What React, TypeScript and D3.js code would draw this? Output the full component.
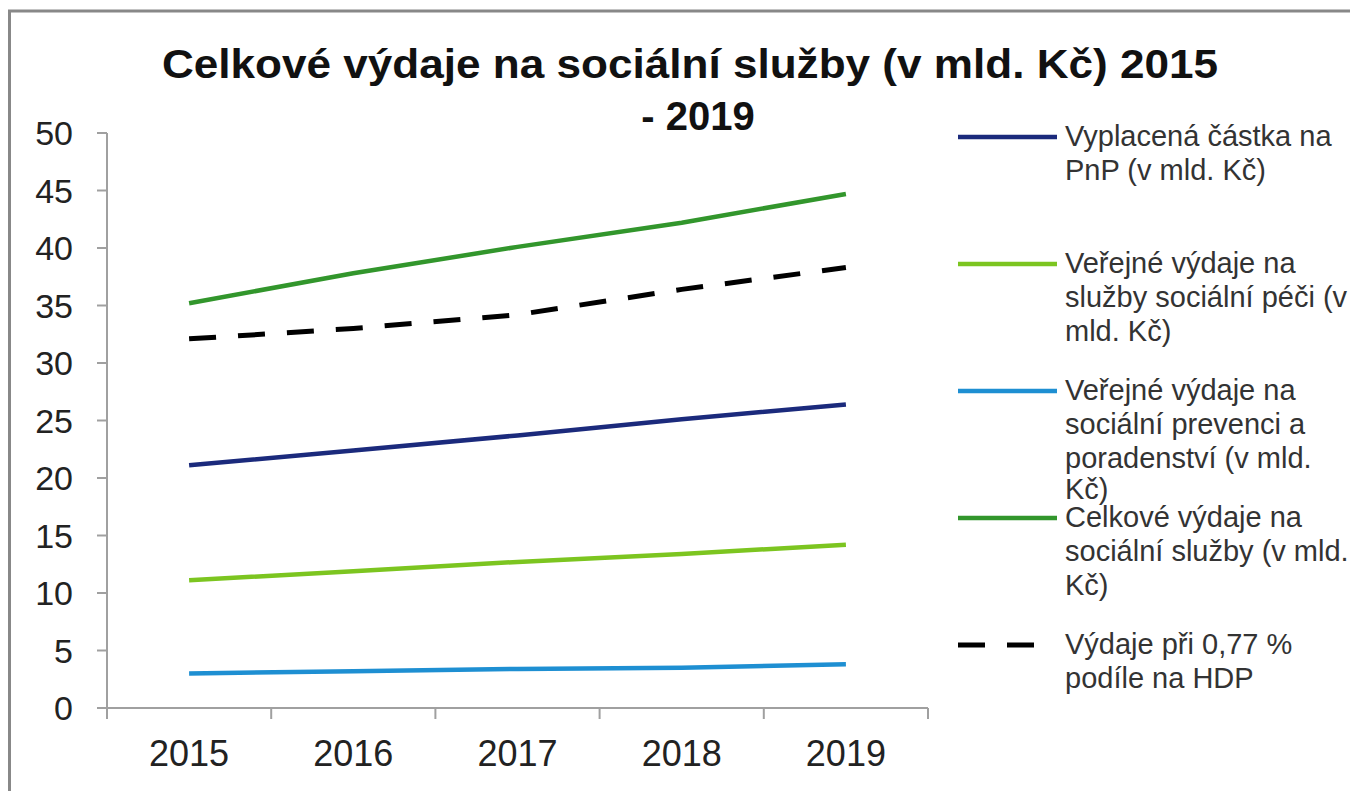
import React from "react";
import * as d3 from "d3";

const years = ["2015", "2016", "2017", "2018", "2019"];
const yTicks = [0, 5, 10, 15, 20, 25, 30, 35, 40, 45, 50];

const pnp = [21.1, 22.4, 23.7, 25.1, 26.4];
const pece = [11.1, 11.9, 12.7, 13.4, 14.2];
const prevence = [3.0, 3.2, 3.4, 3.5, 3.8];
const celkove = [35.2, 37.8, 40.1, 42.2, 44.7];
const hdp = [32.1, 33.0, 34.2, 36.4, 38.3];

const seriesNames = [
  ["Vyplacená částka na", "PnP (v mld. Kč)"],
  ["Veřejné výdaje na", "služby sociální péči (v", "mld. Kč)"],
  ["Veřejné výdaje na", "sociální prevenci a", "poradenství (v mld.", "Kč)"],
  ["Celkové výdaje na", "sociální služby (v mld.", "Kč)"],
  ["Výdaje při 0,77 %", "podíle na HDP"],
];

const titleLines = ["Celkové výdaje na sociální služby (v mld. Kč) 2015", "- 2019"];

const series = [
  { values: pnp, color: "#1b2a7c", dash: null },
  { values: pece, color: "#7cc520", dash: null },
  { values: prevence, color: "#1e8fd2", dash: null },
  { values: celkove, color: "#32962c", dash: null },
  { values: hdp, color: "#000000", dash: "27 22" },
];

const FONT = "'Liberation Sans', Arial, Helvetica, sans-serif";

export default function App() {
  const W = 1350;
  const H = 791;
  const x = d3.scaleBand<string>().domain(years).range([107, 928]).padding(0);
  const y = d3.scaleLinear().domain([0, 50]).range([708, 133]);
  const cx = (d: string) => (x(d) as number) + x.bandwidth() / 2;

  const line = d3
    .line<number>()
    .x((_, i) => cx(years[i]))
    .y((v) => y(v));

  const legendY = d3.scaleLinear().domain([0, 4]).range([137, 645]);
  const axisColor = "#a0a0a0";

  const drawOrder = [2, 1, 0, 4, 3];

  return (
    <svg
      width={W}
      height={H}
      style={{ position: "absolute", left: 0, top: 0, background: "#fff" }}
      fontFamily={FONT}
    >
      <rect x={0} y={0} width={W} height={H} fill="#fff" />
      <rect x={9.5} y={11} width={W + 20} height={H + 20} fill="none" stroke="#888" strokeWidth={3} />

      {/* title */}
      <text x={690} y={78} textAnchor="middle" fontSize={40} fontWeight="bold" fill="#111"
        textLength={1056} lengthAdjust="spacingAndGlyphs">
        {titleLines[0]}
      </text>
      <text x={698} y={130} textAnchor="middle" fontSize={40} fontWeight="bold" fill="#111">
        {titleLines[1]}
      </text>

      {/* y axis */}
      <line x1={107} x2={107} y1={y(50)} y2={y(0)} stroke={axisColor} strokeWidth={2} />
      {yTicks.map((t) => (
        <g key={t}>
          <line x1={97} x2={107} y1={y(t)} y2={y(t)} stroke={axisColor} strokeWidth={2} />
          <text x={73} y={y(t) + 12} textAnchor="end" fontSize={34} fill="#222">
            {t}
          </text>
        </g>
      ))}

      {/* x axis */}
      <line x1={97} x2={928} y1={y(0)} y2={y(0)} stroke={axisColor} strokeWidth={2} />
      {years.map((yr) => (
        <line key={"t" + yr} x1={x(yr) as number} x2={x(yr) as number} y1={y(0)} y2={y(0) + 11}
          stroke={axisColor} strokeWidth={2} />
      ))}
      <line x1={928} x2={928} y1={y(0)} y2={y(0) + 11} stroke={axisColor} strokeWidth={2} />
      {years.map((yr) => (
        <text key={"l" + yr} x={cx(yr)} y={766} textAnchor="middle" fontSize={36} fill="#222">
          {yr}
        </text>
      ))}

      {/* series */}
      {drawOrder.map((i) => {
        const s = series[i];
        return (
          <path key={i} d={line(s.values) || ""} fill="none" stroke={s.color}
            strokeWidth={s.dash ? 5 : 4.5} strokeDasharray={s.dash || undefined}
            strokeLinejoin="round" />
        );
      })}

      {/* legend */}
      {series.map((s, i) => {
        const ly = legendY(i);
        return (
          <g key={"lg" + i}>
            <line x1={958} x2={s.dash ? 1035 : 1057} y1={ly} y2={ly} stroke={s.color}
              strokeWidth={s.dash ? 5 : 4.5} strokeDasharray={s.dash || undefined} />
            {seriesNames[i].map((t, j) => (
              <text key={j} x={1065} y={ly + 9 + j * (i === 2 && j === 3 ? 33 : 34)} fontSize={29} fill="#333">
                {t}
              </text>
            ))}
          </g>
        );
      })}
    </svg>
  );
}
